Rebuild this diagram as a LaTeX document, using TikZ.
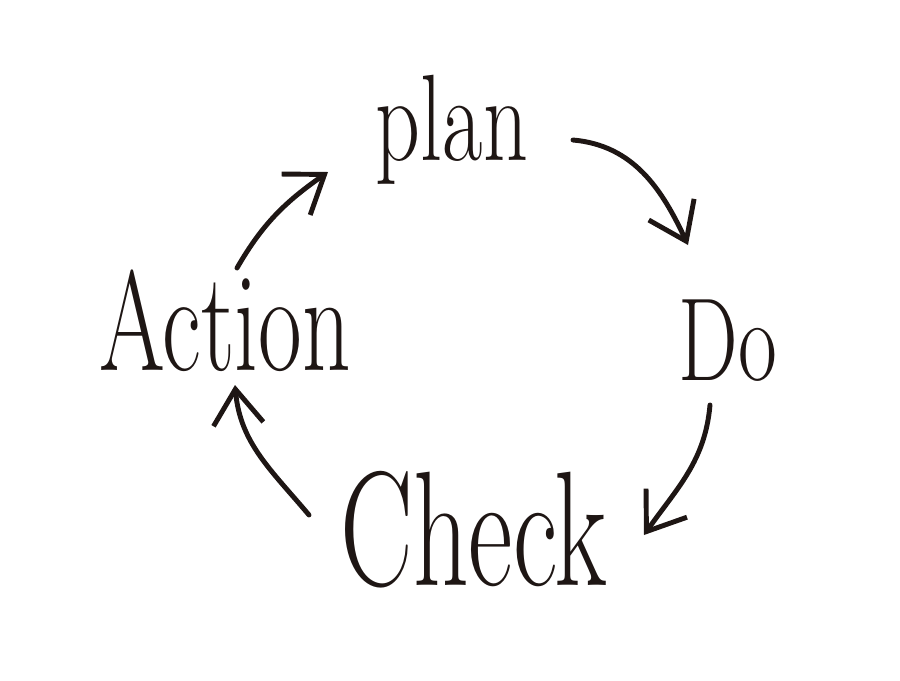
\documentclass[tikz,border=0pt]{standalone}
\usetikzlibrary{arrows.meta}
\definecolor{ink}{HTML}{1E1614}
\begin{document}
\begin{tikzpicture}[
    word/.style={ink,inner sep=0pt,anchor=base},
    cyc/.style={ink,line width=1.4pt,line cap=round,-{Straight Barb[length=3.5mm,width=5mm]}}
  ]
        \useasboundingbox (0,0) rectangle (9,6.8);
        \node [word,yscale=1.4,font=\fontsize{25}{30}\selectfont] (plan) at (4.52,5.2) {plan};
        \node [word,yscale=1.4,font=\fontsize{24}{28}\selectfont] (do) at (7.28,3.0) {Do};
        \node [word,yscale=1.5,font=\fontsize{31}{36}\selectfont] (check) at (4.74,0.95) {Check};
        \node [word,yscale=1.5,font=\fontsize{27}{32}\selectfont] (action) at (2.25,3.1) {Action};
        \draw [cyc] ([shift={(1.21,0.2)}]plan.base) to[out=-5,in=115] ([shift={(-0.4,1.35)}]do.base);
        \draw [cyc] ([shift={(-0.18,-0.25)}]do.base) to[out=-95,in=55] ([shift={(1.7,0.5)}]check.base);
        \draw [cyc] ([shift={(-1.65,0.7)}]check.base) to[out=130,in=-85] ([shift={(0.1,-0.15)}]action.base);
        \draw [cyc] ([shift={(0.12,1.02)}]action.base) to[out=60,in=-145] ([shift={(-1.24,-0.12)}]plan.base);
    \end{tikzpicture}
\end{document}
